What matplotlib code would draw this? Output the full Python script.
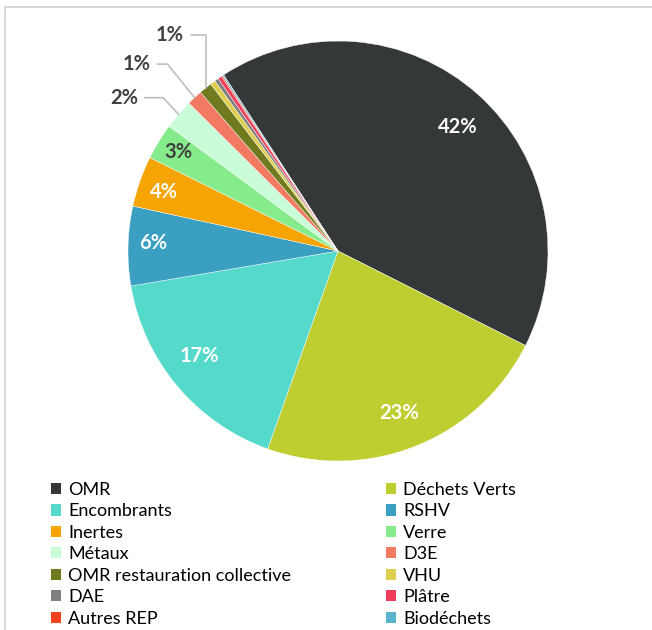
import numpy as np
import matplotlib.pyplot as plt
from matplotlib.patches import Patch
from matplotlib.lines import Line2D

plt.rcParams['font.family'] = ['Lato', 'DejaVu Sans']

# Share of collected tonnage per waste stream (%)
categories = ['OMR', 'Déchets Verts', 'Encombrants', 'RSHV', 'Inertes', 'Verre',
              'Métaux', 'D3E', 'OMR restauration collective', 'VHU', 'DAE',
              'Plâtre', 'Autres REP', 'Biodéchets']
values = [41.6, 23.0, 16.9, 6.1, 3.9, 2.8, 2.3, 1.2, 1.0, 0.4, 0.3, 0.3, 0.1, 0.1]
colors = ['#343839', '#BECE31', '#55D9CA', '#3A9FC0', '#F5A402', '#86EB8A',
          '#C8FDD8', '#F27A62', '#707A1F', '#E0CF4E', '#808080', '#F03B5B',
          '#F0401E', '#5AB4CB']

# labels drawn on the slice (white or dark) and outside with leaders
inside_labels = {0: 'white', 1: 'white', 2: 'white', 3: 'white', 4: 'white', 5: '#404040'}
inside_pos = {0: (0.57, 0.59), 1: (0.29, -0.77), 2: (-0.66, -0.50), 3: (-0.88, 0.04),
              4: (-0.83, 0.28), 5: (-0.76, 0.47)}
outside_pos = {6: ((-1.02, 0.73), -47), 7: ((-0.96, 0.89), -51), 8: ((-0.80, 1.03), 90)}

W, H = 652, 630
fig = plt.figure(figsize=(W / 100, H / 100), dpi=100)

cx, cy, r = 338, 251, 210
ax = fig.add_axes([(cx - r) / W, (H - cy - r) / H, 2 * r / W, 2 * r / H])
wedges, _ = ax.pie(values, colors=colors, startangle=123, counterclock=False,
                   radius=1.0, wedgeprops=dict(edgecolor='white', linewidth=0.3))
ax.set_xlim(-1, 1)
ax.set_ylim(-1, 1)
ax.set_aspect('equal')
ax.axis('off')

for i, col in inside_labels.items():
    x, y = inside_pos[i]
    ax.text(x, y, f'{values[i]:.0f}%', color=col, fontsize=14.5, fontweight='bold',
            ha='center', va='center')

for i, ((tx, ty), angB) in outside_pos.items():
    w = wedges[i]
    mid = np.deg2rad((w.theta1 + w.theta2) / 2)
    ax.annotate(f'{values[i]:.0f}%', xy=(np.cos(mid), np.sin(mid)), xytext=(tx, ty),
                fontsize=14.5, fontweight='bold', color='#404040', ha='center', va='center',
                annotation_clip=False,
                arrowprops=dict(arrowstyle='-', color='#BFBFBF', lw=1.2,
                                shrinkA=3, shrinkB=0,
                                connectionstyle=f'angle,angleA=0,angleB={angB},rad=0'))

# legend in two columns, read row by row
handles = [Patch(facecolor=c, edgecolor='none') for c in colors]
for col, x0 in enumerate([51, 386]):
    idx = list(range(col, len(categories), 2))
    fig.legend([handles[k] for k in idx], [categories[k] for k in idx],
               loc='upper left', bbox_to_anchor=(x0 / W, 1 - 482 / H),
               frameon=False, fontsize=13, handlelength=0.58, handleheight=0.58,
               handletextpad=0.38, labelspacing=0.3, borderpad=0, borderaxespad=0)

# thin frame on top and left
fig.add_artist(Line2D([5 / W, 5 / W], [0, 1 - 7 / H], color='#D9D9D9', lw=1.5))
fig.add_artist(Line2D([5 / W, 1], [1 - 7 / H, 1 - 7 / H], color='#D9D9D9', lw=1.5))

fig.savefig('out.png', dpi=100)
